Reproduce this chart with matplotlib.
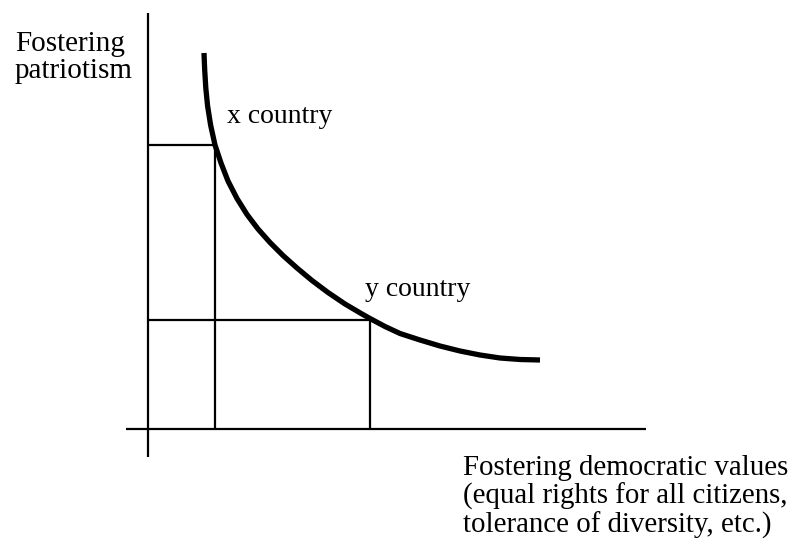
import matplotlib.pyplot as plt

# curve (x: democratic values, y: patriotism)
curve_x = [56, 56.7, 57.8, 59.6, 62.6, 67, 73, 80, 89, 99, 110, 122, 135, 149,
           164, 180, 197, 214, 222, 237, 252, 272, 292, 312, 332, 352, 372, 392]
curve_y = [376, 359, 341, 323, 304, 284, 266, 248, 230.5, 214.5, 200, 186.5, 173.5, 161,
           148.5, 136.5, 125, 115, 110.5, 102.5, 95.5, 89, 83, 78, 74, 71, 69.5, 69]

countries = ["x country", "y country"]
country_x = [67, 222]
country_y = [284, 109]

y_label = ["Fostering", "patriotism"]
x_label = ["Fostering democratic values",
           "(equal rights for all citizens,",
           "tolerance of diversity, etc.)"]

plt.rcParams['font.family'] = ['Liberation Serif', 'DejaVu Serif']

fig = plt.figure(figsize=(7.91, 5.40), dpi=100)
ax = fig.add_axes([0, 0, 1, 1])
ax.set_xlim(-148, 643)
ax.set_ylim(-111, 429)
ax.axis("off")

# axes
ax.plot([-22, 498], [0, 0], color="black", lw=1.6, solid_capstyle="butt")
ax.plot([0, 0], [-28, 416], color="black", lw=1.6, solid_capstyle="butt")

# guide lines to the two countries
for cx, cy in zip(country_x, country_y):
    ax.plot([0, cx], [cy, cy], color="black", lw=1.6, solid_capstyle="butt")
    ax.plot([cx, cx], [0, cy], color="black", lw=1.6, solid_capstyle="butt")

# frontier curve
ax.plot(curve_x, curve_y, color="black", lw=3.8, solid_capstyle="butt",
        solid_joinstyle="round")

# labels
offsets = [(12, 22), (-5, 24)]
for name, cx, cy, (dx, dy) in zip(countries, country_x, country_y, offsets):
    ax.text(cx + dx, cy + dy, name, fontsize=20, va="baseline", ha="left")

for i, line in enumerate(y_label):
    ax.text(-133, 378 - i * 27, line, fontsize=21, va="baseline", ha="left")

for i, line in enumerate(x_label):
    ax.text(315, -46 - i * 29, line, fontsize=20.8, va="baseline", ha="left")

fig.savefig("out.png", dpi=100)
